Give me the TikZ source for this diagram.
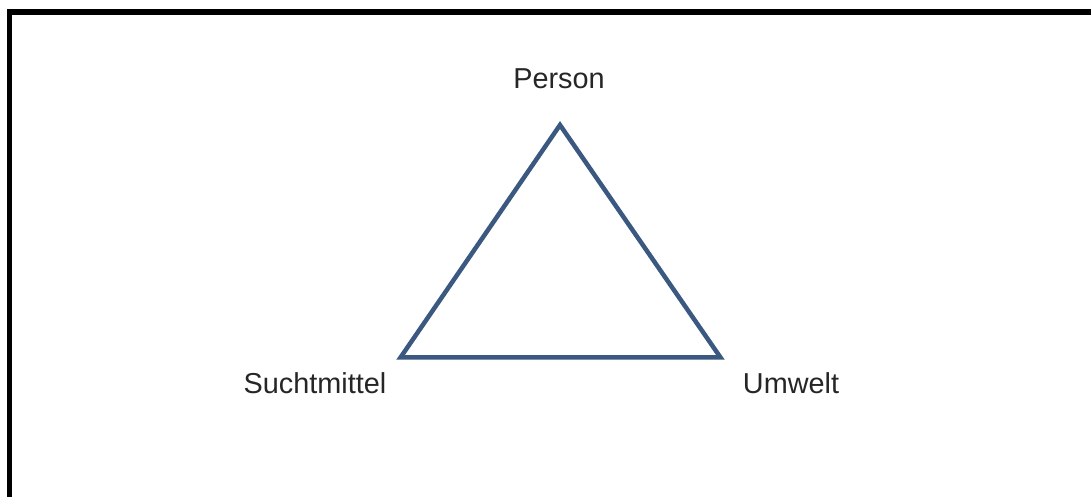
\documentclass[tikz,border=0pt]{standalone}
\usepackage{fontspec}
\setmainfont{Liberation Sans}
\definecolor{triblue}{RGB}{59,89,128}
\begin{document}
\begin{tikzpicture}[
x=0.025cm, y=-0.025cm,
side/.style={draw=triblue, line width=3.2pt, line join=miter},
frame/.style={draw=black, line width=3.6pt},
lbl/.style={font=\fontsize{20.5}{24}\selectfont, text=black!85, inner sep=0pt, anchor=base}
]
\clip (0,0) rectangle (1091,497);
\fill[white] (0,0) rectangle (1091,497);
\draw[frame] (9.5,530) |- (1120,12);

\coordinate (top) at (560,125);
\coordinate (left) at (400.5,357.5);
\coordinate (right) at (720.5,357.5);
\draw[side] (top) -- (right) -- (left) -- cycle;

\node[lbl] (person) at (559,89) {Person};
\node[lbl] (sucht) at (315,394) {Suchtmittel};
\node[lbl] (umwelt) at (791,394) {Umwelt};
\end{tikzpicture}
\end{document}
